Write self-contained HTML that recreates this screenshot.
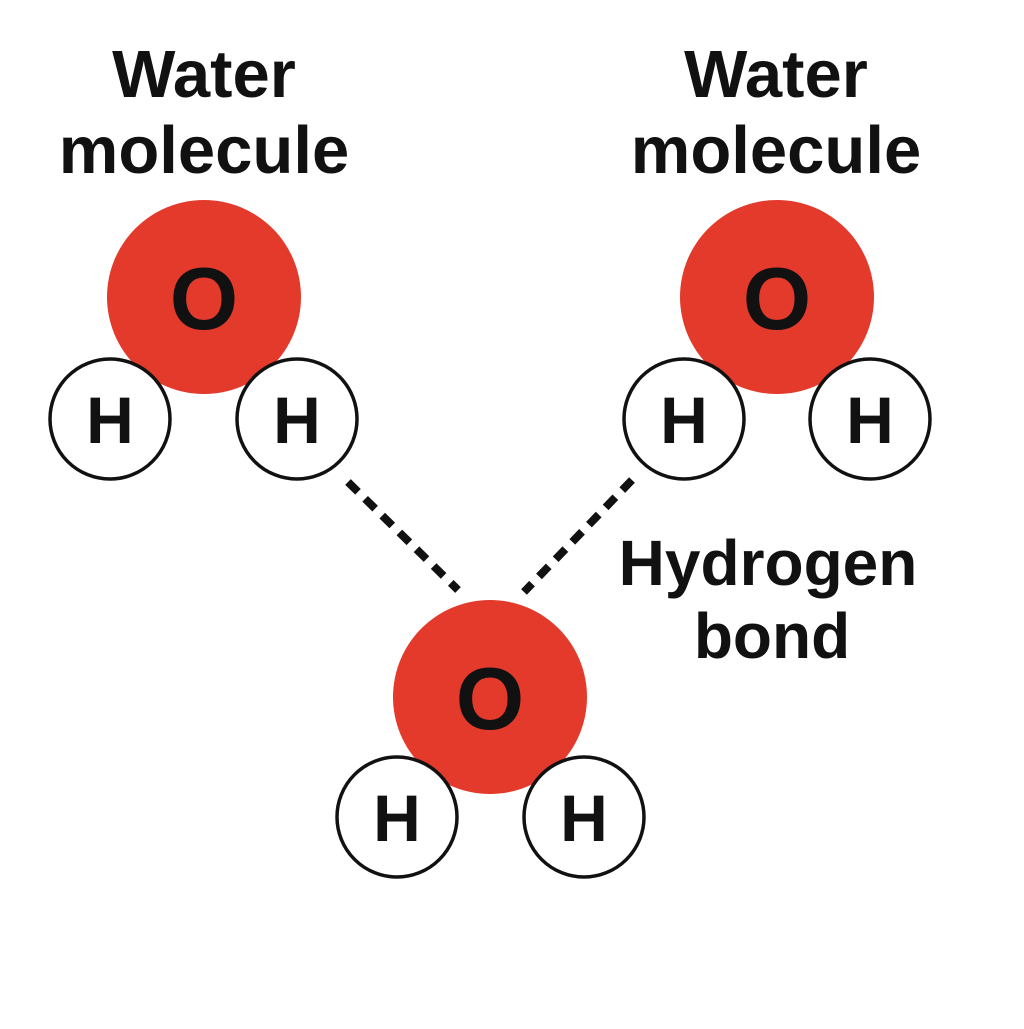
<!DOCTYPE html>
<html><head><style>html,body{margin:0;padding:0;background:#fff}</style></head>
<body>
<svg width="1024" height="1024" viewBox="0 0 1024 1024" xmlns="http://www.w3.org/2000/svg" font-family="Liberation Sans, sans-serif">
<rect width="1024" height="1024" fill="#fff"/>
<g font-weight="bold" font-size="67" text-anchor="middle" fill="#111">
<text x="204" y="97">Water</text>
<text x="204" y="173">molecule</text>
<text x="776" y="97">Water</text>
<text x="776" y="173">molecule</text>
<text x="768" y="585" font-size="64">Hydrogen</text>
<text x="772" y="658" font-size="64">bond</text>
</g>
<g stroke="#111" stroke-width="8" stroke-dasharray="14 10">
<line x1="348" y1="482" x2="458" y2="590"/>
<line x1="632" y1="480" x2="524" y2="592"/>
</g>
<g fill="#e33a2b">
<circle cx="204" cy="297" r="97"/>
<circle cx="777" cy="297" r="97"/>
<circle cx="490" cy="697" r="97"/>
</g>
<g fill="#fff" stroke="#111" stroke-width="3.5">
<circle cx="110" cy="419" r="60"/>
<circle cx="297" cy="419" r="60"/>
<circle cx="684" cy="419" r="60"/>
<circle cx="870" cy="419" r="60"/>
<circle cx="397" cy="817" r="60"/>
<circle cx="584" cy="817" r="60"/>
</g>
<g font-weight="bold" font-size="88" text-anchor="middle" fill="#111">
<text x="204" y="329">O</text>
<text x="777" y="329">O</text>
<text x="490" y="729">O</text>
</g>
<g font-size="66" text-anchor="middle" fill="#111" font-weight="bold">
<text x="110" y="443">H</text>
<text x="297" y="443">H</text>
<text x="684" y="443">H</text>
<text x="870" y="443">H</text>
<text x="397" y="841">H</text>
<text x="584" y="841">H</text>
</g>
</svg>
</body></html>
